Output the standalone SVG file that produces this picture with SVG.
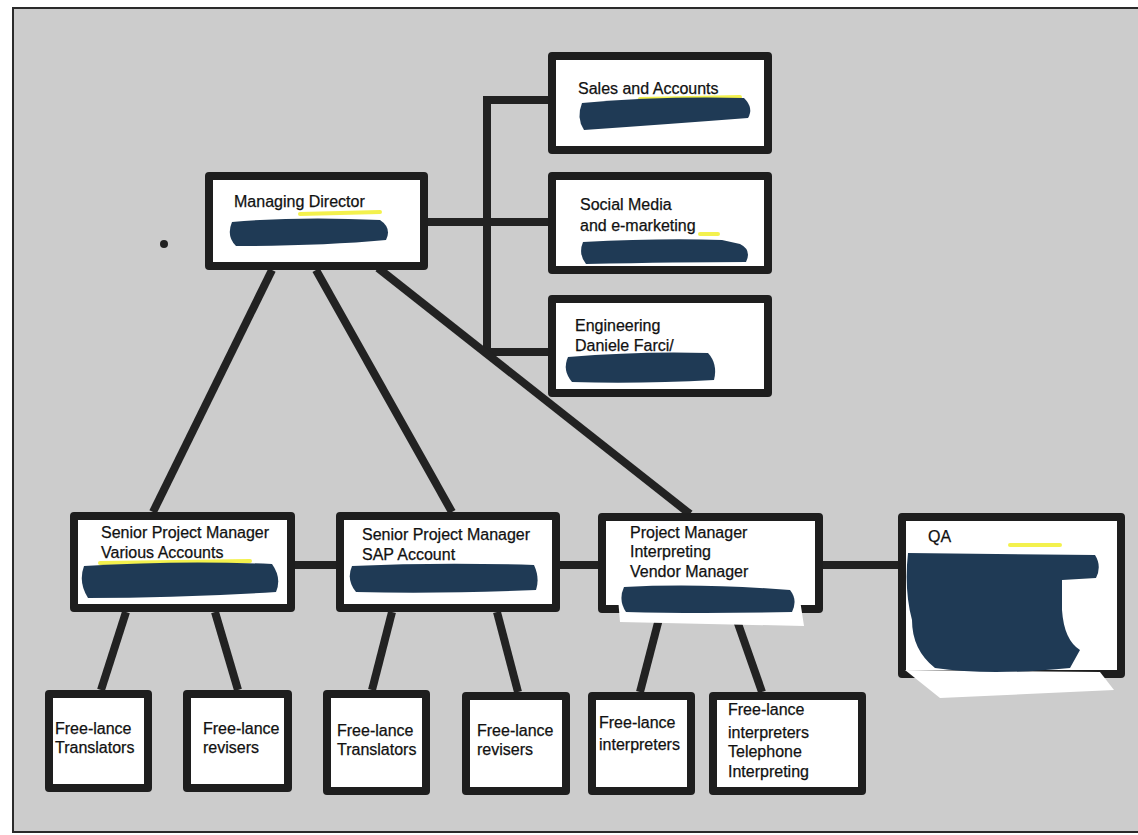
<svg xmlns="http://www.w3.org/2000/svg" width="1138" height="835" viewBox="0 0 1138 835">
<defs>
<style>
.box{fill:#ffffff;stroke:#1e1e1e;stroke-width:8;stroke-linejoin:round}
.ln{stroke:#222222;stroke-width:8;fill:none;stroke-linecap:butt}
.t{font-family:"Liberation Sans",Arial,sans-serif;font-size:16px;fill:#111111;stroke:#111111;stroke-width:0.25}
.ink{fill:#1f3a55}
.hl{stroke:#f2f03a;stroke-width:4;fill:none;stroke-linecap:round;opacity:0.9}
</style>
</defs>
<rect x="0" y="0" width="1138" height="835" fill="#ffffff"/>
<rect x="13" y="8" width="1130" height="824" fill="#cccccc" stroke="#2a2a2a" stroke-width="2"/>

<g id="connectors">
<line class="ln" x1="487" y1="96" x2="487" y2="356"/>
<line class="ln" x1="483" y1="100" x2="548" y2="100"/>
<line class="ln" x1="428" y1="222" x2="548" y2="222"/>
<line class="ln" x1="483" y1="352" x2="548" y2="352"/>
<line class="ln" x1="272" y1="270" x2="153" y2="512"/>
<line class="ln" x1="316" y1="270" x2="452" y2="512"/>
<line class="ln" x1="378" y1="268" x2="690" y2="514"/>
<line class="ln" x1="295" y1="565" x2="336" y2="565"/>
<line class="ln" x1="560" y1="565" x2="598" y2="565"/>
<line class="ln" x1="823" y1="565" x2="898" y2="565"/>
<line class="ln" x1="126" y1="612" x2="101" y2="690"/>
<line class="ln" x1="215" y1="612" x2="238" y2="690"/>
<line class="ln" x1="392" y1="612" x2="372" y2="690"/>
<line class="ln" x1="497" y1="612" x2="518" y2="692"/>
<line class="ln" x1="660" y1="615" x2="640" y2="692"/>
<line class="ln" x1="735" y1="615" x2="762" y2="692"/>
</g>

<circle cx="164" cy="244" r="4" fill="#222"/>

<g id="managing-director">
<rect class="box" x="209" y="176" width="215" height="90"/>
<text class="t" x="234" y="207">Managing Director</text>
<path class="hl" d="M300 214 L380 212"/>
<path class="ink" d="M232 222 Q300 216 380 220 Q392 228 386 240 Q320 246 236 246 Q226 236 232 222 Z"/>
</g>

<g id="sales">
<rect class="box" x="552" y="56" width="216" height="94"/>
<text class="t" x="578" y="94">Sales and Accounts</text>
<path class="hl" d="M640 99 L740 97"/>
<path class="ink" d="M582 103 Q660 96 744 98 Q754 108 748 118 Q670 124 584 130 Q576 118 582 103 Z"/>
</g>

<g id="social-media">
<rect class="box" x="552" y="176" width="216" height="94"/>
<text class="t" x="580" y="210">Social Media</text>
<text class="t" x="580" y="231">and e-marketing</text>
<path class="hl" d="M700 234 L718 234"/>
<path class="ink" d="M583 242 Q660 238 722 240 L740 244 Q752 250 746 262 Q680 262 586 264 Q578 254 583 242 Z"/>
</g>

<g id="engineering">
<rect class="box" x="552" y="299" width="216" height="94"/>
<text class="t" x="575" y="331">Engineering</text>
<text class="t" x="575" y="351">Daniele Farci/</text>
<path class="ink" d="M568 357 Q640 351 708 353 Q718 364 714 380 Q640 384 572 382 Q562 370 568 357 Z"/>
</g>

<g id="spm-various">
<rect class="box" x="74" y="516" width="217" height="92"/>
<text class="t" x="101" y="538">Senior Project Manager</text>
<text class="t" x="101" y="558">Various Accounts</text>
<path class="hl" d="M100 563 L250 561"/>
<path class="ink" d="M84 566 Q180 560 272 564 Q282 578 276 592 Q180 598 88 598 Q78 582 84 566 Z"/>
</g>

<g id="spm-sap">
<rect class="box" x="340" y="516" width="216" height="92"/>
<text class="t" x="362" y="540">Senior Project Manager</text>
<text class="t" x="362" y="560">SAP Account</text>
<path class="ink" d="M352 566 Q440 562 534 565 Q540 578 536 590 Q440 594 356 592 Q346 580 352 566 Z"/>
</g>

<g id="pm-interpreting">
<rect class="box" x="602" y="517" width="217" height="92"/>
<text class="t" x="630" y="538">Project Manager</text>
<text class="t" x="630" y="557">Interpreting</text>
<text class="t" x="630" y="577">Vendor Manager</text>
<polygon points="618,598 800,600 804,626 620,622" fill="#ffffff"/>
<path class="ink" d="M624 587 Q700 583 790 590 Q798 600 792 612 Q700 614 626 612 Q618 600 624 587 Z"/>
</g>

<g id="qa">
<rect class="box" x="902" y="517" width="219" height="157"/>
<text class="t" x="928" y="542">QA</text>
<path class="hl" d="M1010 545 L1060 545"/>
<polygon points="905,670 1100,672 1114,690 940,698" fill="#ffffff"/>
<path class="ink" d="M908 553 L1095 555 Q1102 566 1096 578 L1062 580 L1062 610 Q1064 640 1080 650 L1070 668 Q990 676 935 668 Q912 650 912 620 Q904 590 908 553 Z"/>
</g>

<g id="fl-translators-1">
<rect class="box" x="49" y="694" width="99" height="94"/>
<text class="t" x="55" y="734">Free-lance</text>
<text class="t" x="55" y="753">Translators</text>
</g>

<g id="fl-revisers-1">
<rect class="box" x="187" y="694" width="101" height="94"/>
<text class="t" x="203" y="734">Free-lance</text>
<text class="t" x="203" y="753">revisers</text>
</g>

<g id="fl-translators-2">
<rect class="box" x="327" y="694" width="99" height="97"/>
<text class="t" x="337" y="736">Free-lance</text>
<text class="t" x="337" y="755">Translators</text>
</g>

<g id="fl-revisers-2">
<rect class="box" x="466" y="696" width="100" height="95"/>
<text class="t" x="477" y="736">Free-lance</text>
<text class="t" x="477" y="755">revisers</text>
</g>

<g id="fl-interpreters">
<rect class="box" x="592" y="696" width="99" height="95"/>
<text class="t" x="599" y="728">Free-lance</text>
<text class="t" x="599" y="750">interpreters</text>
</g>

<g id="fl-telephone">
<rect class="box" x="713" y="696" width="149" height="95"/>
<text class="t" x="728" y="715">Free-lance</text>
<text class="t" x="728" y="738">interpreters</text>
<text class="t" x="728" y="757">Telephone</text>
<text class="t" x="728" y="777">Interpreting</text>
</g>
</svg>
